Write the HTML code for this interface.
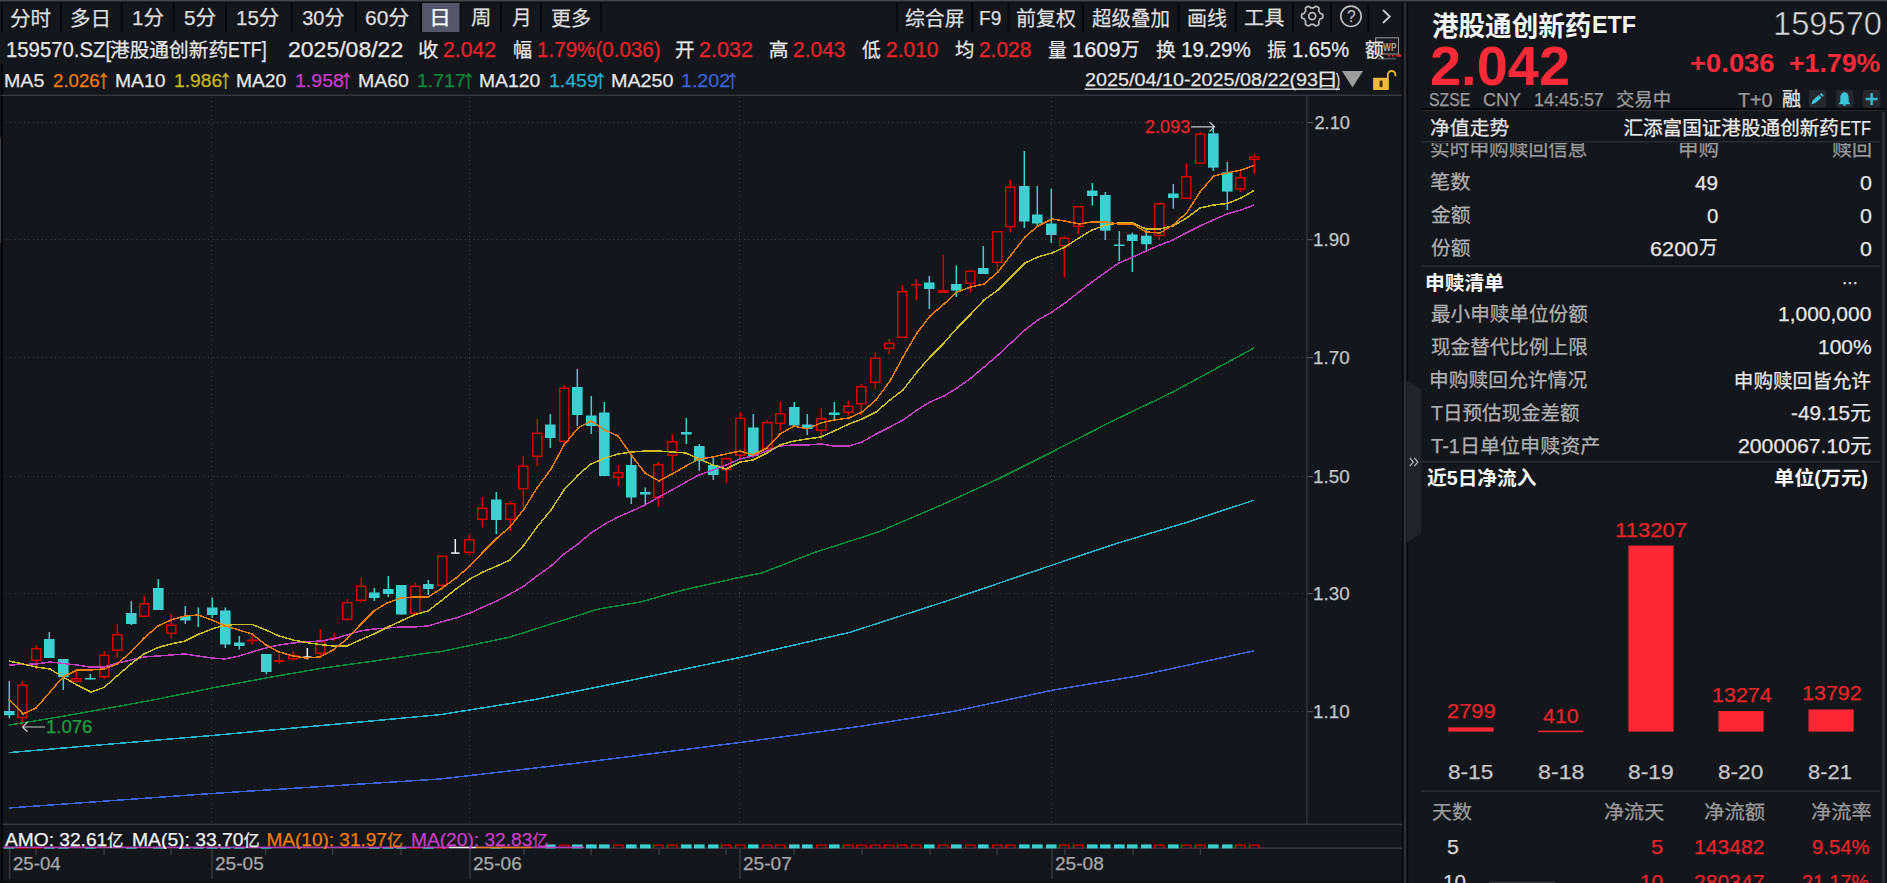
<!DOCTYPE html><html lang="zh"><head><meta charset="utf-8"><title>159570.SZ 港股通创新药ETF</title><style>
html,body{margin:0;padding:0;background:#13161b;}html{overflow:hidden;}body{width:1887px;height:883px;position:relative;overflow:hidden;font-family:"Liberation Sans","Noto Sans CJK SC",sans-serif;}#root{position:absolute;left:0;top:0;width:1887px;height:883px;overflow:hidden;}
svg{position:absolute;left:0;top:0;}.t{-webkit-text-stroke:0.25px currentColor;position:absolute;white-space:nowrap;line-height:1;transform-origin:0 0;left:0;top:0;}.cl{position:absolute;left:0;width:1887px;overflow:hidden;}
</style></head><body><div id="root">
<svg width="1887" height="883" viewBox="0 0 1887 883">
<rect x="0" y="0" width="1887" height="1.6" fill="#43464f"/>
<rect x="0" y="1.8" width="1887" height="1" fill="#08090b"/>
<rect x="1.0" y="3" width="2" height="29" fill="#08090b"/>
<rect x="60.0" y="3" width="2" height="29" fill="#08090b"/>
<rect x="120.5" y="3" width="2" height="29" fill="#08090b"/>
<rect x="172.7" y="3" width="2" height="29" fill="#08090b"/>
<rect x="225.0" y="3" width="2" height="29" fill="#08090b"/>
<rect x="290.7" y="3" width="2" height="29" fill="#08090b"/>
<rect x="354.6" y="3" width="2" height="29" fill="#08090b"/>
<rect x="420.0" y="3" width="2" height="29" fill="#08090b"/>
<rect x="459.0" y="3" width="2" height="29" fill="#08090b"/>
<rect x="500.0" y="3" width="2" height="29" fill="#08090b"/>
<rect x="540.0" y="3" width="2" height="29" fill="#08090b"/>
<rect x="600.0" y="3" width="2" height="29" fill="#08090b"/>
<rect x="896.0" y="3" width="2" height="29" fill="#08090b"/>
<rect x="971.2" y="3" width="2" height="29" fill="#08090b"/>
<rect x="1007.5" y="3" width="2" height="29" fill="#08090b"/>
<rect x="1081.9" y="3" width="2" height="29" fill="#08090b"/>
<rect x="1177.8" y="3" width="2" height="29" fill="#08090b"/>
<rect x="1234.8" y="3" width="2" height="29" fill="#08090b"/>
<rect x="1292.0" y="3" width="2" height="29" fill="#08090b"/>
<rect x="1330.0" y="3" width="2" height="29" fill="#08090b"/>
<rect x="1367.3" y="3" width="2" height="29" fill="#08090b"/>
<rect x="422" y="3" width="37.6" height="29" fill="#55566a"/>
<rect x="0.8" y="64" width="2" height="819" fill="#050608"/>
<rect x="0" y="137.5" width="1" height="105.5" fill="#3c3e46"/>
<rect x="1" y="94.6" width="1401.1" height="1.4" fill="#36373c"/>
<rect x="0" y="881.7" width="1403" height="1.3" fill="#0a0b0d"/>
<line x1="6" y1="122.5" x2="1307" y2="122.5" stroke="#3c3e43" stroke-width="1" stroke-dasharray="1 3 1 4"/>
<rect x="1307" y="122" width="6" height="1.2" fill="#55565a"/>
<line x1="6" y1="239.5" x2="1307" y2="239.5" stroke="#3c3e43" stroke-width="1" stroke-dasharray="1 3 1 4"/>
<rect x="1307" y="239" width="6" height="1.2" fill="#55565a"/>
<line x1="6" y1="357.5" x2="1307" y2="357.5" stroke="#3c3e43" stroke-width="1" stroke-dasharray="1 3 1 4"/>
<rect x="1307" y="357" width="6" height="1.2" fill="#55565a"/>
<line x1="6" y1="476.5" x2="1307" y2="476.5" stroke="#3c3e43" stroke-width="1" stroke-dasharray="1 3 1 4"/>
<rect x="1307" y="476" width="6" height="1.2" fill="#55565a"/>
<line x1="6" y1="593.5" x2="1307" y2="593.5" stroke="#3c3e43" stroke-width="1" stroke-dasharray="1 3 1 4"/>
<rect x="1307" y="593" width="6" height="1.2" fill="#55565a"/>
<line x1="6" y1="711.5" x2="1307" y2="711.5" stroke="#3c3e43" stroke-width="1" stroke-dasharray="1 3 1 4"/>
<rect x="1307" y="711" width="6" height="1.2" fill="#55565a"/>
<line x1="211.5" y1="97" x2="211.5" y2="823" stroke="#3c3e43" stroke-width="1" stroke-dasharray="1 3 1 4"/>
<line x1="469.5" y1="97" x2="469.5" y2="823" stroke="#3c3e43" stroke-width="1" stroke-dasharray="1 3 1 4"/>
<line x1="739.5" y1="97" x2="739.5" y2="823" stroke="#3c3e43" stroke-width="1" stroke-dasharray="1 3 1 4"/>
<line x1="1051.5" y1="97" x2="1051.5" y2="823" stroke="#3c3e43" stroke-width="1" stroke-dasharray="1 3 1 4"/>
<rect x="1306.2" y="95" width="1.4" height="729" fill="#36373c"/>
<rect x="2.5" y="823.6" width="1399.6" height="1.5" fill="#36373c"/>
<rect x="2.5" y="847.4" width="1399.6" height="1.5" fill="#36373c"/>
<rect x="1402.1" y="2.8" width="1.6" height="881" fill="#050608"/>
<rect x="1403.7" y="2.8" width="2.9" height="881" fill="#2e2f35"/>
<rect x="1406.6" y="2.8" width="1.5" height="881" fill="#050608"/>
<rect x="8.9" y="849" width="1.3" height="30" fill="#3c3d42"/>
<rect x="211.4" y="849" width="1.3" height="30" fill="#3c3d42"/>
<rect x="469.4" y="849" width="1.3" height="30" fill="#3c3d42"/>
<rect x="739.4" y="849" width="1.3" height="30" fill="#3c3d42"/>
<rect x="1051.4" y="849" width="1.3" height="30" fill="#3c3d42"/>
<rect x="35.4" y="849" width="1.3" height="6" fill="#3c3d42"/>
<rect x="103.4" y="849" width="1.3" height="6" fill="#3c3d42"/>
<rect x="170.4" y="849" width="1.3" height="6" fill="#3c3d42"/>
<rect x="264.9" y="849" width="1.3" height="6" fill="#3c3d42"/>
<rect x="331.9" y="849" width="1.3" height="6" fill="#3c3d42"/>
<rect x="400.4" y="849" width="1.3" height="6" fill="#3c3d42"/>
<rect x="523.4" y="849" width="1.3" height="6" fill="#3c3d42"/>
<rect x="590.4" y="849" width="1.3" height="6" fill="#3c3d42"/>
<rect x="658.4" y="849" width="1.3" height="6" fill="#3c3d42"/>
<rect x="725.4" y="849" width="1.3" height="6" fill="#3c3d42"/>
<rect x="793.4" y="849" width="1.3" height="6" fill="#3c3d42"/>
<rect x="861.4" y="849" width="1.3" height="6" fill="#3c3d42"/>
<rect x="929.4" y="849" width="1.3" height="6" fill="#3c3d42"/>
<rect x="996.4" y="849" width="1.3" height="6" fill="#3c3d42"/>
<rect x="1064.4" y="849" width="1.3" height="6" fill="#3c3d42"/>
<rect x="1132.4" y="849" width="1.3" height="6" fill="#3c3d42"/>
<rect x="1199.8" y="849" width="1.3" height="6" fill="#3c3d42"/>
<rect x="8.55" y="681" width="1.5" height="37.2" fill="#3ecfd0"/>
<rect x="4" y="711" width="10.6" height="4.2" fill="#3ecfd0"/>
<rect x="4" y="847" width="10.6" height="1.6" fill="#3ecfd0"/>
<rect x="21.55" y="681" width="1.5" height="3.5" fill="#d40000"/>
<rect x="21.55" y="718.2" width="1.5" height="7.0" fill="#d40000"/>
<rect x="17.75" y="685.25" width="9.1" height="32.2" fill="#13161b" stroke="#d40000" stroke-width="1.5"/>
<rect x="17" y="847" width="10.6" height="1.6" fill="#d40000"/>
<rect x="35.55" y="645" width="1.5" height="3.0" fill="#d40000"/>
<rect x="35.55" y="661" width="1.5" height="8.0" fill="#d40000"/>
<rect x="31.75" y="648.75" width="9.1" height="11.5" fill="#13161b" stroke="#d40000" stroke-width="1.5"/>
<rect x="31" y="847" width="10.6" height="1.6" fill="#d40000"/>
<rect x="48.55" y="632" width="1.5" height="26.0" fill="#3ecfd0"/>
<rect x="44" y="639" width="10.6" height="19.0" fill="#3ecfd0"/>
<rect x="44" y="847" width="10.6" height="1.6" fill="#3ecfd0"/>
<rect x="62.55" y="659" width="1.5" height="31.0" fill="#3ecfd0"/>
<rect x="58" y="659" width="10.6" height="18.0" fill="#3ecfd0"/>
<rect x="58" y="847" width="10.6" height="1.6" fill="#3ecfd0"/>
<rect x="75.55" y="669" width="1.5" height="9.0" fill="#d40000"/>
<rect x="71.75" y="678.75" width="9.1" height="2.5" fill="#13161b" stroke="#d40000" stroke-width="1.5"/>
<rect x="89.55" y="674" width="1.5" height="5.5" fill="#3ecfd0"/>
<rect x="85" y="678" width="10.6" height="1.5" fill="#3ecfd0"/>
<rect x="85" y="847" width="10.6" height="1.6" fill="#3ecfd0"/>
<rect x="103.55" y="651" width="1.5" height="3.5" fill="#d40000"/>
<rect x="103.55" y="677.5" width="1.5" height="1.5" fill="#d40000"/>
<rect x="99.75" y="655.25" width="9.1" height="21.5" fill="#13161b" stroke="#d40000" stroke-width="1.5"/>
<rect x="116.55" y="624" width="1.5" height="10.0" fill="#d40000"/>
<rect x="116.55" y="651" width="1.5" height="7.0" fill="#d40000"/>
<rect x="112.75" y="634.75" width="9.1" height="15.5" fill="#13161b" stroke="#d40000" stroke-width="1.5"/>
<rect x="130.55" y="601" width="1.5" height="24.0" fill="#3ecfd0"/>
<rect x="126" y="613" width="10.6" height="11.0" fill="#3ecfd0"/>
<rect x="126" y="847" width="10.6" height="1.6" fill="#3ecfd0"/>
<rect x="143.55" y="595.5" width="1.5" height="7.5" fill="#d40000"/>
<rect x="139.75" y="603.75" width="9.1" height="12.5" fill="#13161b" stroke="#d40000" stroke-width="1.5"/>
<rect x="157.55" y="579" width="1.5" height="31.0" fill="#3ecfd0"/>
<rect x="153" y="588" width="10.6" height="22.0" fill="#3ecfd0"/>
<rect x="153" y="847" width="10.6" height="1.6" fill="#3ecfd0"/>
<rect x="170.55" y="614" width="1.5" height="10.5" fill="#d40000"/>
<rect x="170.55" y="634" width="1.5" height="5.0" fill="#d40000"/>
<rect x="166.75" y="625.25" width="9.1" height="8.0" fill="#13161b" stroke="#d40000" stroke-width="1.5"/>
<rect x="184.55" y="606" width="1.5" height="18.0" fill="#3ecfd0"/>
<rect x="180" y="616" width="10.6" height="4.5" fill="#3ecfd0"/>
<rect x="180" y="847" width="10.6" height="1.6" fill="#3ecfd0"/>
<rect x="197.55" y="607.5" width="1.5" height="19.5" fill="#3ecfd0"/>
<rect x="193" y="847" width="10.6" height="1.6" fill="#3ecfd0"/>
<rect x="211.55" y="597.5" width="1.5" height="20.5" fill="#3ecfd0"/>
<rect x="207" y="607.5" width="10.6" height="7.5" fill="#3ecfd0"/>
<rect x="207" y="847" width="10.6" height="1.6" fill="#3ecfd0"/>
<rect x="224.55" y="607.5" width="1.5" height="40.5" fill="#3ecfd0"/>
<rect x="220" y="610.5" width="10.6" height="34.0" fill="#3ecfd0"/>
<rect x="220" y="847" width="10.6" height="1.6" fill="#3ecfd0"/>
<rect x="238.55" y="636" width="1.5" height="13.5" fill="#3ecfd0"/>
<rect x="234" y="642.5" width="10.6" height="3.5" fill="#3ecfd0"/>
<rect x="234" y="847" width="10.6" height="1.6" fill="#3ecfd0"/>
<rect x="251.55" y="635" width="1.5" height="4.5" fill="#d40000"/>
<rect x="251.55" y="641.5" width="1.5" height="3.0" fill="#d40000"/>
<rect x="247" y="639.5" width="10.6" height="2.0" fill="#d40000"/>
<rect x="265.55" y="654" width="1.5" height="20.0" fill="#3ecfd0"/>
<rect x="261" y="654" width="10.6" height="18.0" fill="#3ecfd0"/>
<rect x="261" y="847" width="10.6" height="1.6" fill="#3ecfd0"/>
<rect x="278.55" y="654" width="1.5" height="6.0" fill="#d40000"/>
<rect x="278.55" y="662" width="1.5" height="2.0" fill="#d40000"/>
<rect x="274" y="660" width="10.6" height="2.0" fill="#d40000"/>
<rect x="292.55" y="651" width="1.5" height="4.0" fill="#d40000"/>
<rect x="292.55" y="659.5" width="1.5" height="1.5" fill="#d40000"/>
<rect x="288.75" y="655.75" width="9.1" height="3.0" fill="#13161b" stroke="#d40000" stroke-width="1.5"/>
<rect x="306.55" y="648" width="1.5" height="11.5" fill="#f0f0f0"/>
<rect x="303" y="656.3" width="8.6" height="1.5" fill="#f0f0f0"/>
<rect x="319.55" y="629" width="1.5" height="12.0" fill="#d40000"/>
<rect x="319.55" y="654" width="1.5" height="3.5" fill="#d40000"/>
<rect x="315.75" y="641.75" width="9.1" height="11.5" fill="#13161b" stroke="#d40000" stroke-width="1.5"/>
<rect x="333.55" y="633" width="1.5" height="4.5" fill="#d40000"/>
<rect x="333.55" y="639" width="1.5" height="2.0" fill="#d40000"/>
<rect x="329" y="637.5" width="10.6" height="1.6" fill="#d40000"/>
<rect x="346.55" y="599" width="1.5" height="3.0" fill="#d40000"/>
<rect x="346.55" y="620" width="1.5" height="1.0" fill="#d40000"/>
<rect x="342.75" y="602.75" width="9.1" height="16.5" fill="#13161b" stroke="#d40000" stroke-width="1.5"/>
<rect x="360.55" y="577.5" width="1.5" height="8.0" fill="#d40000"/>
<rect x="360.55" y="601" width="1.5" height="1.5" fill="#d40000"/>
<rect x="356.75" y="586.25" width="9.1" height="14.0" fill="#13161b" stroke="#d40000" stroke-width="1.5"/>
<rect x="373.55" y="588" width="1.5" height="13.0" fill="#3ecfd0"/>
<rect x="369" y="592.5" width="10.6" height="5.5" fill="#3ecfd0"/>
<rect x="369" y="847" width="10.6" height="1.6" fill="#3ecfd0"/>
<rect x="387.55" y="576" width="1.5" height="21.0" fill="#3ecfd0"/>
<rect x="383" y="589" width="10.6" height="5.0" fill="#3ecfd0"/>
<rect x="383" y="847" width="10.6" height="1.6" fill="#3ecfd0"/>
<rect x="400.55" y="585" width="1.5" height="29.5" fill="#3ecfd0"/>
<rect x="396" y="585" width="10.6" height="29.5" fill="#3ecfd0"/>
<rect x="396" y="847" width="10.6" height="1.6" fill="#3ecfd0"/>
<rect x="414.55" y="582.5" width="1.5" height="3.0" fill="#d40000"/>
<rect x="410.75" y="586.25" width="9.1" height="27.0" fill="#13161b" stroke="#d40000" stroke-width="1.5"/>
<rect x="410" y="847" width="10.6" height="1.6" fill="#d40000"/>
<rect x="427.55" y="580" width="1.5" height="15.0" fill="#3ecfd0"/>
<rect x="423" y="584" width="10.6" height="5.0" fill="#3ecfd0"/>
<rect x="423" y="847" width="10.6" height="1.6" fill="#3ecfd0"/>
<rect x="441.55" y="586" width="1.5" height="3.0" fill="#d40000"/>
<rect x="437.75" y="556.25" width="9.1" height="29.0" fill="#13161b" stroke="#d40000" stroke-width="1.5"/>
<rect x="437" y="847" width="10.6" height="1.6" fill="#d40000"/>
<rect x="454.55" y="539" width="1.5" height="14.0" fill="#f0f0f0"/>
<rect x="451" y="552.3" width="8.6" height="1.5" fill="#f0f0f0"/>
<rect x="468.55" y="534.5" width="1.5" height="4.5" fill="#d40000"/>
<rect x="468.55" y="553" width="1.5" height="2.0" fill="#d40000"/>
<rect x="464.75" y="539.75" width="9.1" height="12.5" fill="#13161b" stroke="#d40000" stroke-width="1.5"/>
<rect x="481.55" y="497" width="1.5" height="10.5" fill="#d40000"/>
<rect x="481.55" y="520" width="1.5" height="7.5" fill="#d40000"/>
<rect x="477.75" y="508.25" width="9.1" height="11.0" fill="#13161b" stroke="#d40000" stroke-width="1.5"/>
<rect x="495.55" y="492" width="1.5" height="42.0" fill="#3ecfd0"/>
<rect x="491" y="499.5" width="10.6" height="20.5" fill="#3ecfd0"/>
<rect x="491" y="847" width="10.6" height="1.6" fill="#3ecfd0"/>
<rect x="509.55" y="501" width="1.5" height="2.0" fill="#d40000"/>
<rect x="509.55" y="520" width="1.5" height="11.0" fill="#d40000"/>
<rect x="505.75" y="503.75" width="9.1" height="15.5" fill="#13161b" stroke="#d40000" stroke-width="1.5"/>
<rect x="522.55" y="456" width="1.5" height="9.5" fill="#d40000"/>
<rect x="522.55" y="489.5" width="1.5" height="17.5" fill="#d40000"/>
<rect x="518.75" y="466.25" width="9.1" height="22.5" fill="#13161b" stroke="#d40000" stroke-width="1.5"/>
<rect x="536.55" y="419" width="1.5" height="13.5" fill="#d40000"/>
<rect x="536.55" y="457" width="1.5" height="9.0" fill="#d40000"/>
<rect x="532.75" y="433.25" width="9.1" height="23.0" fill="#13161b" stroke="#d40000" stroke-width="1.5"/>
<rect x="549.55" y="414" width="1.5" height="34.0" fill="#3ecfd0"/>
<rect x="545" y="424.5" width="10.6" height="13.5" fill="#3ecfd0"/>
<rect x="545" y="844.4" width="10.6" height="4" fill="#3ecfd0"/>
<rect x="563.55" y="385" width="1.5" height="2.5" fill="#d40000"/>
<rect x="563.55" y="442" width="1.5" height="3.0" fill="#d40000"/>
<rect x="559.75" y="388.25" width="9.1" height="53.0" fill="#13161b" stroke="#d40000" stroke-width="1.5"/>
<path d="M559.7 848.4V845.1H568.9V848.4" fill="none" stroke="#d40000" stroke-width="1.4"/>
<rect x="576.55" y="369" width="1.5" height="57.0" fill="#3ecfd0"/>
<rect x="572" y="387" width="10.6" height="28.0" fill="#3ecfd0"/>
<rect x="572" y="844.4" width="10.6" height="4" fill="#3ecfd0"/>
<rect x="590.55" y="396" width="1.5" height="38.0" fill="#3ecfd0"/>
<rect x="586" y="415.5" width="10.6" height="10.5" fill="#3ecfd0"/>
<rect x="586" y="844.4" width="10.6" height="4" fill="#3ecfd0"/>
<rect x="603.55" y="402" width="1.5" height="74.0" fill="#3ecfd0"/>
<rect x="599" y="412.5" width="10.6" height="63.5" fill="#3ecfd0"/>
<rect x="599" y="844.4" width="10.6" height="4" fill="#3ecfd0"/>
<rect x="617.55" y="465" width="1.5" height="7.0" fill="#d40000"/>
<rect x="617.55" y="478" width="1.5" height="8.0" fill="#d40000"/>
<rect x="613.75" y="472.75" width="9.1" height="4.5" fill="#13161b" stroke="#d40000" stroke-width="1.5"/>
<path d="M613.7 848.4V845.1H622.9V848.4" fill="none" stroke="#d40000" stroke-width="1.4"/>
<rect x="630.55" y="455" width="1.5" height="49.0" fill="#3ecfd0"/>
<rect x="626" y="465" width="10.6" height="32.5" fill="#3ecfd0"/>
<rect x="626" y="844.4" width="10.6" height="4" fill="#3ecfd0"/>
<rect x="644.55" y="487.5" width="1.5" height="17.5" fill="#3ecfd0"/>
<rect x="640" y="492" width="10.6" height="2.5" fill="#3ecfd0"/>
<rect x="640" y="844.4" width="10.6" height="4" fill="#3ecfd0"/>
<rect x="657.55" y="462" width="1.5" height="2.0" fill="#d40000"/>
<rect x="657.55" y="498" width="1.5" height="9.0" fill="#d40000"/>
<rect x="653.75" y="464.75" width="9.1" height="32.5" fill="#13161b" stroke="#d40000" stroke-width="1.5"/>
<path d="M653.7 848.4V845.1H662.9V848.4" fill="none" stroke="#d40000" stroke-width="1.4"/>
<rect x="671.55" y="434" width="1.5" height="7.0" fill="#d40000"/>
<rect x="671.55" y="456" width="1.5" height="15.0" fill="#d40000"/>
<rect x="667.75" y="441.75" width="9.1" height="13.5" fill="#13161b" stroke="#d40000" stroke-width="1.5"/>
<path d="M667.7 848.4V845.1H676.9V848.4" fill="none" stroke="#d40000" stroke-width="1.4"/>
<rect x="685.55" y="418" width="1.5" height="26.0" fill="#3ecfd0"/>
<rect x="681" y="432" width="10.6" height="2.5" fill="#3ecfd0"/>
<rect x="681" y="844.4" width="10.6" height="4" fill="#3ecfd0"/>
<rect x="698.55" y="444" width="1.5" height="27.0" fill="#3ecfd0"/>
<rect x="694" y="446" width="10.6" height="15.0" fill="#3ecfd0"/>
<rect x="694" y="844.4" width="10.6" height="4" fill="#3ecfd0"/>
<rect x="712.55" y="457.5" width="1.5" height="22.5" fill="#3ecfd0"/>
<rect x="708" y="465" width="10.6" height="10.0" fill="#3ecfd0"/>
<rect x="708" y="844.4" width="10.6" height="4" fill="#3ecfd0"/>
<rect x="725.55" y="457.5" width="1.5" height="0.5" fill="#d40000"/>
<rect x="725.55" y="470" width="1.5" height="12.5" fill="#d40000"/>
<rect x="721.75" y="458.75" width="9.1" height="10.5" fill="#13161b" stroke="#d40000" stroke-width="1.5"/>
<path d="M721.7 848.4V845.1H730.9V848.4" fill="none" stroke="#d40000" stroke-width="1.4"/>
<rect x="739.55" y="412.5" width="1.5" height="5.0" fill="#d40000"/>
<rect x="739.55" y="456" width="1.5" height="3.0" fill="#d40000"/>
<rect x="735.75" y="418.25" width="9.1" height="37.0" fill="#13161b" stroke="#d40000" stroke-width="1.5"/>
<path d="M735.7 848.4V845.1H744.9V848.4" fill="none" stroke="#d40000" stroke-width="1.4"/>
<rect x="752.55" y="414" width="1.5" height="43.5" fill="#3ecfd0"/>
<rect x="748" y="427.5" width="10.6" height="28.5" fill="#3ecfd0"/>
<rect x="748" y="844.4" width="10.6" height="4" fill="#3ecfd0"/>
<rect x="766.55" y="420" width="1.5" height="2.0" fill="#d40000"/>
<rect x="766.55" y="449" width="1.5" height="3.5" fill="#d40000"/>
<rect x="762.75" y="422.75" width="9.1" height="25.5" fill="#13161b" stroke="#d40000" stroke-width="1.5"/>
<path d="M762.7 848.4V845.1H771.9V848.4" fill="none" stroke="#d40000" stroke-width="1.4"/>
<rect x="779.55" y="402" width="1.5" height="11.0" fill="#d40000"/>
<rect x="779.55" y="424" width="1.5" height="6.5" fill="#d40000"/>
<rect x="775.75" y="413.75" width="9.1" height="9.5" fill="#13161b" stroke="#d40000" stroke-width="1.5"/>
<path d="M775.7 848.4V845.1H784.9V848.4" fill="none" stroke="#d40000" stroke-width="1.4"/>
<rect x="793.55" y="402" width="1.5" height="23.5" fill="#3ecfd0"/>
<rect x="789" y="407" width="10.6" height="18.5" fill="#3ecfd0"/>
<rect x="789" y="844.4" width="10.6" height="4" fill="#3ecfd0"/>
<rect x="806.55" y="414" width="1.5" height="21.0" fill="#3ecfd0"/>
<rect x="802" y="424.5" width="10.6" height="4.5" fill="#3ecfd0"/>
<rect x="802" y="844.4" width="10.6" height="4" fill="#3ecfd0"/>
<rect x="820.55" y="408" width="1.5" height="10.0" fill="#d40000"/>
<rect x="820.55" y="431" width="1.5" height="9.5" fill="#d40000"/>
<rect x="816.75" y="418.75" width="9.1" height="11.5" fill="#13161b" stroke="#d40000" stroke-width="1.5"/>
<path d="M816.7 848.4V845.1H825.9V848.4" fill="none" stroke="#d40000" stroke-width="1.4"/>
<rect x="833.55" y="402" width="1.5" height="18.0" fill="#3ecfd0"/>
<rect x="829" y="412.5" width="10.6" height="2.5" fill="#3ecfd0"/>
<rect x="829" y="844.4" width="10.6" height="4" fill="#3ecfd0"/>
<rect x="847.55" y="400.5" width="1.5" height="5.0" fill="#d40000"/>
<rect x="847.55" y="413" width="1.5" height="2.5" fill="#d40000"/>
<rect x="843.75" y="406.25" width="9.1" height="6.0" fill="#13161b" stroke="#d40000" stroke-width="1.5"/>
<path d="M843.7 848.4V845.1H852.9V848.4" fill="none" stroke="#d40000" stroke-width="1.4"/>
<rect x="860.55" y="384" width="1.5" height="2.0" fill="#d40000"/>
<rect x="860.55" y="404.5" width="1.5" height="10.5" fill="#d40000"/>
<rect x="856.75" y="386.75" width="9.1" height="17.0" fill="#13161b" stroke="#d40000" stroke-width="1.5"/>
<path d="M856.7 848.4V845.1H865.9V848.4" fill="none" stroke="#d40000" stroke-width="1.4"/>
<rect x="874.55" y="352.5" width="1.5" height="5.0" fill="#d40000"/>
<rect x="874.55" y="383" width="1.5" height="6.5" fill="#d40000"/>
<rect x="870.75" y="358.25" width="9.1" height="24.0" fill="#13161b" stroke="#d40000" stroke-width="1.5"/>
<path d="M870.7 848.4V845.1H879.9V848.4" fill="none" stroke="#d40000" stroke-width="1.4"/>
<rect x="888.55" y="339" width="1.5" height="3.5" fill="#d40000"/>
<rect x="888.55" y="349" width="1.5" height="5.0" fill="#d40000"/>
<rect x="884.75" y="343.25" width="9.1" height="5.0" fill="#13161b" stroke="#d40000" stroke-width="1.5"/>
<path d="M884.7 848.4V845.1H893.9V848.4" fill="none" stroke="#d40000" stroke-width="1.4"/>
<rect x="901.55" y="285" width="1.5" height="6.0" fill="#d40000"/>
<rect x="897.75" y="291.75" width="9.1" height="45.5" fill="#13161b" stroke="#d40000" stroke-width="1.5"/>
<path d="M897.7 848.4V845.1H906.9V848.4" fill="none" stroke="#d40000" stroke-width="1.4"/>
<rect x="915.55" y="279" width="1.5" height="5.0" fill="#d40000"/>
<rect x="915.55" y="285.5" width="1.5" height="14.5" fill="#d40000"/>
<rect x="911" y="284" width="10.6" height="1.6" fill="#d40000"/>
<path d="M911.7 848.4V845.1H920.9V848.4" fill="none" stroke="#d40000" stroke-width="1.4"/>
<rect x="928.55" y="276" width="1.5" height="33.0" fill="#3ecfd0"/>
<rect x="924" y="282.5" width="10.6" height="6.5" fill="#3ecfd0"/>
<rect x="924" y="844.4" width="10.6" height="4" fill="#3ecfd0"/>
<rect x="942.55" y="255" width="1.5" height="35.0" fill="#d40000"/>
<rect x="938.75" y="290.75" width="9.1" height="1.5" fill="#13161b" stroke="#d40000" stroke-width="1.5"/>
<path d="M938.7 848.4V845.1H947.9V848.4" fill="none" stroke="#d40000" stroke-width="1.4"/>
<rect x="955.55" y="265.5" width="1.5" height="31.5" fill="#3ecfd0"/>
<rect x="951" y="284" width="10.6" height="6.5" fill="#3ecfd0"/>
<rect x="951" y="844.4" width="10.6" height="4" fill="#3ecfd0"/>
<rect x="969.55" y="269.5" width="1.5" height="1.0" fill="#d40000"/>
<rect x="969.55" y="284" width="1.5" height="8.5" fill="#d40000"/>
<rect x="965.75" y="271.25" width="9.1" height="12.0" fill="#13161b" stroke="#d40000" stroke-width="1.5"/>
<path d="M965.7 848.4V845.1H974.9V848.4" fill="none" stroke="#d40000" stroke-width="1.4"/>
<rect x="982.55" y="246" width="1.5" height="28.0" fill="#3ecfd0"/>
<rect x="978" y="268" width="10.6" height="6.0" fill="#3ecfd0"/>
<rect x="978" y="844.4" width="10.6" height="4" fill="#3ecfd0"/>
<rect x="996.55" y="263" width="1.5" height="8.0" fill="#d40000"/>
<rect x="992.75" y="231.75" width="9.1" height="30.5" fill="#13161b" stroke="#d40000" stroke-width="1.5"/>
<path d="M992.7 848.4V845.1H1001.9V848.4" fill="none" stroke="#d40000" stroke-width="1.4"/>
<rect x="1009.55" y="180" width="1.5" height="6.4" fill="#d40000"/>
<rect x="1009.55" y="227.4" width="1.5" height="5.1" fill="#d40000"/>
<rect x="1005.75" y="187.15" width="9.1" height="39.5" fill="#13161b" stroke="#d40000" stroke-width="1.5"/>
<path d="M1005.7 848.4V845.1H1014.9V848.4" fill="none" stroke="#d40000" stroke-width="1.4"/>
<rect x="1023.55" y="151" width="1.5" height="77.0" fill="#3ecfd0"/>
<rect x="1019" y="186" width="10.6" height="35.5" fill="#3ecfd0"/>
<rect x="1019" y="844.4" width="10.6" height="4" fill="#3ecfd0"/>
<rect x="1036.55" y="186" width="1.5" height="40.0" fill="#3ecfd0"/>
<rect x="1032" y="214.5" width="10.6" height="9.0" fill="#3ecfd0"/>
<rect x="1032" y="844.4" width="10.6" height="4" fill="#3ecfd0"/>
<rect x="1050.55" y="188.7" width="1.5" height="54.3" fill="#3ecfd0"/>
<rect x="1046" y="223.6" width="10.6" height="11.4" fill="#3ecfd0"/>
<rect x="1046" y="844.4" width="10.6" height="4" fill="#3ecfd0"/>
<rect x="1063.55" y="236" width="1.5" height="1.5" fill="#d40000"/>
<rect x="1063.55" y="246.5" width="1.5" height="31.0" fill="#d40000"/>
<rect x="1059.75" y="238.25" width="9.1" height="7.5" fill="#13161b" stroke="#d40000" stroke-width="1.5"/>
<path d="M1059.7 848.4V845.1H1068.8999999999999V848.4" fill="none" stroke="#d40000" stroke-width="1.4"/>
<rect x="1077.55" y="227" width="1.5" height="7.0" fill="#d40000"/>
<rect x="1073.75" y="206.75" width="9.1" height="19.5" fill="#13161b" stroke="#d40000" stroke-width="1.5"/>
<path d="M1073.7 848.4V845.1H1082.8999999999999V848.4" fill="none" stroke="#d40000" stroke-width="1.4"/>
<rect x="1091.55" y="183" width="1.5" height="22.5" fill="#3ecfd0"/>
<rect x="1087" y="190.6" width="10.6" height="5.4" fill="#3ecfd0"/>
<rect x="1087" y="844.4" width="10.6" height="4" fill="#3ecfd0"/>
<rect x="1104.55" y="192" width="1.5" height="48.0" fill="#3ecfd0"/>
<rect x="1100" y="195" width="10.6" height="35.6" fill="#3ecfd0"/>
<rect x="1100" y="844.4" width="10.6" height="4" fill="#3ecfd0"/>
<rect x="1118.55" y="231" width="1.5" height="30.0" fill="#3ecfd0"/>
<rect x="1114" y="244.5" width="10.6" height="1.5" fill="#3ecfd0"/>
<rect x="1114" y="844.4" width="10.6" height="4" fill="#3ecfd0"/>
<rect x="1131.55" y="232.6" width="1.5" height="39.4" fill="#3ecfd0"/>
<rect x="1127" y="234.5" width="10.6" height="6.5" fill="#3ecfd0"/>
<rect x="1127" y="844.4" width="10.6" height="4" fill="#3ecfd0"/>
<rect x="1145.55" y="229.5" width="1.5" height="22.5" fill="#3ecfd0"/>
<rect x="1141" y="235.7" width="10.6" height="8.5" fill="#3ecfd0"/>
<rect x="1141" y="844.4" width="10.6" height="4" fill="#3ecfd0"/>
<rect x="1158.55" y="236.3" width="1.5" height="3.7" fill="#d40000"/>
<rect x="1154.75" y="203.75" width="9.1" height="31.8" fill="#13161b" stroke="#d40000" stroke-width="1.5"/>
<path d="M1154.7 848.4V845.1H1163.8999999999999V848.4" fill="none" stroke="#d40000" stroke-width="1.4"/>
<rect x="1172.55" y="184" width="1.5" height="24.7" fill="#3ecfd0"/>
<rect x="1168" y="193.5" width="10.6" height="4.5" fill="#3ecfd0"/>
<rect x="1168" y="844.4" width="10.6" height="4" fill="#3ecfd0"/>
<rect x="1185.55" y="163.5" width="1.5" height="12.5" fill="#d40000"/>
<rect x="1181.75" y="176.75" width="9.1" height="21.5" fill="#13161b" stroke="#d40000" stroke-width="1.5"/>
<path d="M1181.7 848.4V845.1H1190.8999999999999V848.4" fill="none" stroke="#d40000" stroke-width="1.4"/>
<rect x="1199.55" y="132" width="1.5" height="1.4" fill="#d40000"/>
<rect x="1195.75" y="134.15" width="9.1" height="28.9" fill="#13161b" stroke="#d40000" stroke-width="1.5"/>
<path d="M1195.7 848.4V845.1H1204.8999999999999V848.4" fill="none" stroke="#d40000" stroke-width="1.4"/>
<rect x="1212.55" y="126.7" width="1.5" height="44.3" fill="#3ecfd0"/>
<rect x="1208" y="133.4" width="10.6" height="34.3" fill="#3ecfd0"/>
<rect x="1208" y="844.4" width="10.6" height="4" fill="#3ecfd0"/>
<rect x="1226.55" y="162" width="1.5" height="48.0" fill="#3ecfd0"/>
<rect x="1222" y="172.3" width="10.6" height="19.3" fill="#3ecfd0"/>
<rect x="1222" y="844.4" width="10.6" height="4" fill="#3ecfd0"/>
<rect x="1239.55" y="170.6" width="1.5" height="6.4" fill="#d40000"/>
<rect x="1239.55" y="189.7" width="1.5" height="2.3" fill="#d40000"/>
<rect x="1235.75" y="177.75" width="9.1" height="11.2" fill="#13161b" stroke="#d40000" stroke-width="1.5"/>
<path d="M1235.7 848.4V845.1H1244.8999999999999V848.4" fill="none" stroke="#d40000" stroke-width="1.4"/>
<rect x="1253.55" y="154.4" width="1.5" height="1.9" fill="#d40000"/>
<rect x="1253.55" y="160" width="1.5" height="14.0" fill="#d40000"/>
<rect x="1249.75" y="157.05" width="9.1" height="2.2" fill="#13161b" stroke="#d40000" stroke-width="1.5"/>
<path d="M1249.7 848.4V845.1H1258.8999999999999V848.4" fill="none" stroke="#d40000" stroke-width="1.4"/>
<polyline points="9.0,808.0 212.0,793.5 440.0,779.0 580.0,762.8 738.5,742.7 859.7,726.4 953.0,711.5 1051.0,690.5 1139.5,675.6 1254.0,650.8" fill="none" stroke="#3d62d6" stroke-width="1.5" stroke-linejoin="round" shape-rendering="crispEdges"/>
<polyline points="9.0,752.6 212.0,735.5 440.0,714.7 533.3,699.8 626.5,681.2 738.5,657.8 850.4,632.2 943.7,602.0 1051.0,565.5 1116.2,543.6 1186.0,522.6 1254.0,500.2" fill="none" stroke="#27b3cc" stroke-width="1.5" stroke-linejoin="round" shape-rendering="crispEdges"/>
<polyline points="9.0,725.0 50.0,718.5 104.0,709.0 158.0,699.0 212.0,688.0 266.0,678.0 320.0,668.5 374.0,661.0 428.0,653.0 440.0,651.8 510.0,637.0 598.6,609.0 640.5,602.0 682.5,590.2 738.5,577.6 762.0,573.0 813.0,553.0 878.4,532.0 943.7,504.0 999.6,478.3 1051.0,452.5 1111.5,421.5 1173.0,392.0 1254.0,348.0" fill="none" stroke="#0b8a3c" stroke-width="1.5" stroke-linejoin="round" shape-rendering="crispEdges"/>
<polyline points="9.0,665.0 36.0,664.0 50.0,662.0 77.0,665.0 90.0,667.0 104.0,667.0 117.0,663.0 131.0,660.0 144.0,657.0 158.0,656.0 171.0,655.0 185.0,654.0 198.0,656.0 212.0,658.0 225.0,659.0 239.0,656.0 252.0,652.0 266.0,648.0 279.0,645.0 293.0,643.0 306.0,642.0 320.0,641.0 333.0,639.0 347.0,635.0 360.0,631.0 374.0,629.0 387.0,628.0 401.0,627.0 414.0,627.0 428.0,626.0 441.0,622.0 456.0,618.0 470.0,613.0 483.0,607.0 497.0,601.0 510.0,594.0 524.0,586.0 537.0,576.0 551.0,566.0 564.0,554.0 578.0,544.0 591.0,533.0 605.0,524.0 618.0,517.0 632.0,511.0 645.0,505.0 659.0,497.0 672.0,490.0 686.0,482.0 699.0,475.0 713.0,470.0 726.0,465.0 740.0,459.0 753.0,456.0 767.0,451.0 780.0,446.0 794.0,445.0 807.0,445.0 821.0,444.0 834.0,446.0 849.0,446.0 862.0,442.0 876.0,434.0 890.0,427.0 903.0,420.0 917.0,410.0 930.0,402.0 944.0,396.0 957.0,388.0 971.0,378.0 984.0,367.0 998.0,355.0 1011.0,343.0 1025.0,330.0 1038.0,320.0 1052.0,312.0 1065.0,303.0 1079.0,292.0 1092.0,282.0 1106.0,272.0 1119.0,263.0 1133.0,257.0 1146.0,251.0 1160.0,245.0 1173.0,240.0 1186.0,233.0 1200.0,226.0 1213.0,220.0 1227.0,214.0 1241.0,210.0 1254.0,205.0" fill="none" stroke="#c040c0" stroke-width="1.5" stroke-linejoin="round" shape-rendering="crispEdges"/>
<polyline points="9.0,661.0 23.0,664.0 36.0,667.0 50.0,669.0 63.0,677.0 77.0,685.0 91.0,692.0 104.0,687.5 117.0,676.0 131.0,664.0 144.0,654.0 158.0,647.5 171.0,644.0 185.0,641.0 198.0,634.5 212.0,629.0 225.0,625.0 239.0,624.5 252.0,624.5 266.0,630.0 279.0,636.0 293.0,640.0 306.0,642.5 320.0,644.5 333.0,646.0 347.0,646.0 360.0,640.0 374.0,634.0 387.0,627.5 401.0,621.0 414.0,615.0 428.0,611.0 441.0,601.0 456.0,589.0 470.0,579.0 483.0,572.0 497.0,566.0 510.0,560.0 524.0,545.0 537.0,527.0 551.0,510.0 564.0,490.0 578.0,475.0 591.0,464.0 605.0,458.0 618.0,454.0 632.0,452.0 645.0,451.0 659.0,451.0 672.0,452.0 686.0,453.0 699.0,459.0 713.0,465.0 726.0,469.0 740.0,462.0 753.0,460.0 767.0,453.0 780.0,445.0 794.0,441.0 807.0,439.0 821.0,437.0 834.0,431.0 849.0,424.0 862.0,419.0 876.0,412.0 890.0,400.0 903.0,390.0 917.0,372.0 930.0,357.0 944.0,343.0 957.0,328.0 971.0,314.0 984.0,300.0 998.0,290.0 1011.0,277.0 1025.0,263.0 1038.0,257.0 1052.0,253.0 1065.0,247.0 1079.0,238.0 1092.0,230.0 1106.0,225.0 1119.0,223.0 1133.0,223.0 1146.0,229.0 1160.0,229.0 1173.0,226.0 1186.6,218.0 1200.0,208.0 1213.7,205.0 1227.0,203.5 1241.0,198.0 1254.0,190.5" fill="none" stroke="#ccbb28" stroke-width="1.5" stroke-linejoin="round" shape-rendering="crispEdges"/>
<polyline points="9.0,699.0 23.0,714.0 36.0,708.0 50.0,692.0 63.0,677.0 77.0,670.0 90.0,670.0 104.0,669.0 117.0,664.0 131.0,652.0 144.0,638.0 158.0,626.0 171.0,620.0 185.0,616.0 198.0,615.0 212.0,620.0 225.0,626.0 239.0,630.0 252.0,634.0 266.0,645.0 279.0,652.0 293.0,656.0 306.0,658.0 320.0,657.0 333.0,650.0 347.0,639.0 360.0,625.0 374.0,611.0 387.0,603.0 401.0,598.0 414.0,597.0 428.0,597.0 441.0,589.0 456.0,578.0 470.0,566.0 483.0,552.0 497.0,538.0 510.0,527.0 524.0,509.0 537.0,488.0 551.0,469.0 564.0,445.0 578.0,428.0 591.0,421.0 605.0,430.0 618.0,436.0 632.0,456.0 645.0,473.0 659.0,481.0 672.0,474.0 686.0,466.0 699.0,459.0 713.0,457.0 726.0,454.0 740.0,451.0 753.0,455.0 767.0,448.0 780.0,434.0 794.0,426.0 807.0,429.0 821.0,423.0 834.0,420.0 849.0,418.0 862.0,412.0 876.0,400.0 890.0,381.0 903.0,357.0 917.0,333.0 930.0,316.0 944.0,304.0 957.0,292.0 971.0,287.0 984.0,284.0 998.0,272.0 1011.0,255.0 1025.0,237.0 1038.0,226.0 1052.0,219.0 1065.0,221.0 1079.0,224.0 1092.0,222.0 1106.0,222.0 1119.0,224.0 1133.0,224.0 1146.0,232.0 1160.0,233.0 1173.0,225.0 1186.6,213.0 1200.0,192.0 1213.7,176.0 1227.0,173.0 1241.0,170.0 1254.0,165.5" fill="none" stroke="#ee7d0a" stroke-width="1.5" stroke-linejoin="round" shape-rendering="crispEdges"/>
<rect x="3" y="846.6" width="581" height="1.3" fill="#c63fc6"/>
<rect x="476" y="846.8" width="55" height="1.4" fill="#ee7d0a"/>
<rect x="449" y="846.8" width="27" height="1.4" fill="#f0f0f0"/>
<path d="M1191 126.8H1214.5M1209.5 122L1214.5 126.8L1209.5 131.6" fill="none" stroke="#c8c8c8" stroke-width="1.2"/>
<path d="M45 727H22.5M27.5 722.2L22.5 727L27.5 731.8" fill="none" stroke="#c8c8c8" stroke-width="1.2"/>
<path d="M1322.80 16.10L1322.79 16.65L1322.74 17.21L1322.67 17.76L1322.07 18.20L1321.33 18.55L1320.58 18.82L1319.95 19.07L1319.78 19.48L1319.60 19.87L1319.39 20.25L1319.16 20.62L1318.91 20.98L1318.65 21.32L1318.75 22.00L1318.88 22.78L1318.95 23.60L1318.87 24.34L1318.43 24.68L1317.97 24.99L1317.50 25.28L1317.01 25.54L1316.51 25.78L1316.00 26.00L1315.32 25.70L1314.65 25.23L1314.03 24.72L1313.50 24.30L1313.07 24.35L1312.63 24.39L1312.20 24.40L1311.77 24.39L1311.33 24.35L1310.90 24.30L1310.37 24.72L1309.75 25.23L1309.08 25.70L1308.40 26.00L1307.89 25.78L1307.39 25.54L1306.90 25.28L1306.43 24.99L1305.97 24.68L1305.53 24.34L1305.45 23.60L1305.52 22.78L1305.65 22.00L1305.75 21.32L1305.49 20.98L1305.24 20.62L1305.01 20.25L1304.80 19.87L1304.62 19.48L1304.45 19.07L1303.82 18.82L1303.07 18.55L1302.33 18.20L1301.73 17.76L1301.66 17.21L1301.61 16.65L1301.60 16.10L1301.61 15.55L1301.66 14.99L1301.73 14.44L1302.33 14.00L1303.07 13.65L1303.82 13.38L1304.45 13.13L1304.62 12.72L1304.80 12.33L1305.01 11.95L1305.24 11.58L1305.49 11.22L1305.75 10.88L1305.65 10.20L1305.52 9.42L1305.45 8.60L1305.53 7.86L1305.97 7.52L1306.43 7.21L1306.90 6.92L1307.39 6.66L1307.89 6.42L1308.40 6.20L1309.08 6.50L1309.75 6.97L1310.37 7.48L1310.90 7.90L1311.33 7.85L1311.77 7.81L1312.20 7.80L1312.63 7.81L1313.07 7.85L1313.50 7.90L1314.03 7.48L1314.65 6.97L1315.32 6.50L1316.00 6.20L1316.51 6.42L1317.01 6.66L1317.50 6.92L1317.97 7.21L1318.43 7.52L1318.87 7.86L1318.95 8.60L1318.88 9.42L1318.75 10.20L1318.65 10.88L1318.91 11.22L1319.16 11.58L1319.39 11.95L1319.60 12.33L1319.78 12.72L1319.95 13.13L1320.58 13.38L1321.33 13.65L1322.07 14.00L1322.67 14.44L1322.74 14.99L1322.79 15.55Z" fill="none" stroke="#bcbcbc" stroke-width="1.7" stroke-linejoin="round"/>
<circle cx="1312.2" cy="16.1" r="3.5" fill="none" stroke="#bcbcbc" stroke-width="1.7"/>
<circle cx="1351" cy="16.3" r="10.2" fill="none" stroke="#bcbcbc" stroke-width="1.7"/>
<path d="M1383 10L1389.8 16.5L1383 23" fill="none" stroke="#c8c8c8" stroke-width="1.9"/>
<path d="M1342 71H1363L1352.5 87.5Z" fill="#9c9c9c"/>
<rect x="1373.1" y="77.8" width="15.8" height="12.2" rx="0.8" fill="#f0b83c"/>
<rect x="1379.6" y="80.4" width="3" height="6.8" rx="1.3" fill="#3c2e0c"/>
<path d="M1387.8 78V74.8A3.8 3.8 0 0 1 1395.4 74.8V76.3" fill="none" stroke="#f0b83c" stroke-width="1.8"/>
<rect x="1375.7" y="37.8" width="22.8" height="16.2" fill="#1c1d22" fill-opacity="0.78" stroke="#a8a8ac" stroke-width="0.9"/>
<line x1="1388.3" y1="55.8" x2="1398" y2="55.8" stroke="#e8242c" stroke-width="1.6" stroke-dasharray="2 1.8"/>
<circle cx="1399.6" cy="55.6" r="1.5" fill="#e8242c"/>
<rect x="1378.2" y="57.8" width="17.4" height="1.8" fill="#505156"/>
<rect x="1084.5" y="88.4" width="255.5" height="1.5" fill="#e0e0e0"/>
<path d="M1406.6 380.5L1421.2 389.5V533.5L1406.6 543Z" fill="#222329"/>
<path d="M1409.8 457.8L1413.3 462L1409.8 466.2M1414.3 457.8L1417.8 462L1414.3 466.2" fill="none" stroke="#b8b8b8" stroke-width="1.2"/>
<rect x="1421" y="108.2" width="464" height="1.8" fill="#060709"/>
<rect x="1421" y="110" width="464" height="1.1" fill="#26272c"/>
<rect x="1421" y="141.2" width="459" height="1.2" fill="#303136"/>
<rect x="1421" y="265.6" width="459" height="1.2" fill="#303136"/>
<rect x="1421" y="461.2" width="459" height="1.2" fill="#303136"/>
<rect x="1421" y="790.6" width="459" height="1.2" fill="#303136"/>
<rect x="1881.6" y="112" width="3.6" height="771" fill="#2c2d32"/>
<rect x="1489" y="881.8" width="66" height="1.2" fill="#3a3b40"/>
<rect x="1808.8" y="90.1" width="17.4" height="17.3" rx="2" fill="#27282e"/>
<rect x="1836" y="90.1" width="17.4" height="17.3" rx="2" fill="#27282e"/>
<rect x="1862.9" y="90.1" width="17.4" height="17.3" rx="2" fill="#27282e"/>
<path d="M1811.4 104.6L1812.6 100.4L1818.9 95.1L1821.3 97.9L1815 103.3Z" fill="#3cc3d8"/>
<path d="M1819.8 94.3L1821.4 93L1823.8 95.8L1822.2 97.1Z" fill="#3cc3d8"/>
<path d="M1838.8 104.2C1838.8 103 1840.3 102.6 1840.3 101.2V98C1840.3 94.6 1842.1 92.2 1844.5 92.2C1846.9 92.2 1848.7 94.6 1848.7 98V101.2C1848.7 102.6 1850.2 103 1850.2 104.2Z" fill="#3cc3d8"/>
<path d="M1843 104.2H1846A1.5 1.9 0 0 1 1843 104.2Z" fill="#3cc3d8"/>
<path d="M1865.6 98.9H1877.6M1871.6 93.1V104.9" stroke="#39b8cc" stroke-width="2.5" fill="none"/>
<rect x="1448.3" y="727.4" width="45.2" height="4.2" fill="#fa2834"/>
<rect x="1538.3" y="730.6" width="45.2" height="1.6" fill="#fa2834"/>
<rect x="1628.4" y="545.6" width="45.2" height="186.0" fill="#fa2834"/>
<rect x="1718.4" y="711" width="45.2" height="20.6" fill="#fa2834"/>
<rect x="1808.5" y="709.4" width="45.2" height="22.2" fill="#fa2834"/>
</svg>
<span class="t" style="left:10.07px;top:9.00px;color:#dedede;font-size:20px;transform:scale(1.0282,1.0000);">分时</span>
<span class="t" style="left:70.17px;top:9.00px;color:#dedede;font-size:20px;transform:scale(1.0306,1.0000);">多日</span>
<span class="t" style="left:131.88px;top:8.00px;color:#dedede;font-size:20px;transform:scale(1.0241,1.0000);">1分</span>
<span class="t" style="left:183.97px;top:8.00px;color:#dedede;font-size:20px;transform:scale(1.0345,1.0000);">5分</span>
<span class="t" style="left:236.48px;top:8.00px;color:#dedede;font-size:20px;transform:scale(1.0244,1.0000);">15分</span>
<span class="t" style="left:302.20px;top:8.00px;color:#dedede;font-size:20px;">30分</span>
<span class="t" style="left:364.95px;top:8.00px;color:#dedede;font-size:20px;transform:scale(1.0488,1.0000);">60分</span>
<span class="t" style="left:428.70px;top:8.00px;color:#ffffff;font-size:20px;transform:scale(1.1000,1.0000);">日</span>
<span class="t" style="left:471.00px;top:8.00px;color:#dedede;font-size:20px;transform:scale(1.0222,1.0000);">周</span>
<span class="t" style="left:512.00px;top:8.00px;color:#dedede;font-size:20px;transform:scale(0.9824,1.0000);">月</span>
<span class="t" style="left:550.79px;top:9.00px;color:#dedede;font-size:20px;transform:scale(1.0053,1.0000);">更多</span>
<span class="t" style="left:905.40px;top:9.00px;color:#dedede;font-size:20px;transform:scale(0.9932,1.0000);">综合屏</span>
<span class="t" style="left:978.75px;top:8.00px;color:#dedede;font-size:20px;transform:scale(0.9545,1.0000);">F9</span>
<span class="t" style="left:1016.00px;top:9.00px;color:#dedede;font-size:20px;">前复权</span>
<span class="t" style="left:1091.60px;top:9.00px;color:#dedede;font-size:20px;transform:scale(0.9747,1.0000);">超级叠加</span>
<span class="t" style="left:1186.90px;top:9.00px;color:#dedede;font-size:20px;">画线</span>
<span class="t" style="left:1243.89px;top:8.00px;color:#dedede;font-size:20px;transform:scale(1.0105,1.0000);">工具</span>
<span class="t" style="left:1346.90px;top:8.00px;color:#bcbcbc;font-size:17px;transform:scale(0.9111,1.0000);">?</span>
<span class="t" style="left:6.04px;top:39.00px;color:#e6e6e6;font-size:21.2px;transform:scale(0.9587,1.0000);">159570.SZ[</span>
<span class="t" style="left:110.01px;top:41.00px;color:#e6e6e6;font-size:19.8px;transform:scale(0.9949,1.0000);">港股通创新药</span>
<span class="t" style="left:228.16px;top:39.00px;color:#e6e6e6;font-size:21.2px;transform:scale(0.8409,1.0000);">ETF]</span>
<span class="t" style="left:288.41px;top:39.00px;color:#e6e6e6;font-size:21.2px;transform:scale(1.0865,1.0000);">2025/08/22</span>
<span class="t" style="left:417.96px;top:41.00px;color:#e6e6e6;font-size:19.8px;transform:scale(1.0389,1.0000);">收</span>
<span class="t" style="left:443.00px;top:39.00px;color:#e8242c;font-size:21.2px;">2.042</span>
<span class="t" style="left:512.74px;top:41.00px;color:#e6e6e6;font-size:19.8px;transform:scale(0.9611,1.0000);">幅</span>
<span class="t" style="left:537.03px;top:39.00px;color:#e8242c;font-size:21.2px;transform:scale(0.9720,1.0000);">1.79%(0.036)</span>
<span class="t" style="left:674.81px;top:41.00px;color:#e6e6e6;font-size:19.8px;transform:scale(0.9889,1.0000);">开</span>
<span class="t" style="left:698.98px;top:39.00px;color:#e8242c;font-size:21.2px;transform:scale(1.0196,1.0000);">2.032</span>
<span class="t" style="left:768.80px;top:41.00px;color:#e6e6e6;font-size:19.8px;">高</span>
<span class="t" style="left:792.51px;top:39.00px;color:#e8242c;font-size:21.2px;transform:scale(0.9904,1.0000);">2.043</span>
<span class="t" style="left:862.00px;top:41.00px;color:#e6e6e6;font-size:19.8px;transform:scale(0.9474,1.0000);">低</span>
<span class="t" style="left:886.01px;top:39.00px;color:#e8242c;font-size:21.2px;transform:scale(0.9904,1.0000);">2.010</span>
<span class="t" style="left:955.00px;top:41.00px;color:#e6e6e6;font-size:19.8px;transform:scale(0.9789,1.0000);">均</span>
<span class="t" style="left:978.71px;top:39.00px;color:#e8242c;font-size:21.2px;transform:scale(0.9865,1.0000);">2.028</span>
<span class="t" style="left:1048.00px;top:41.00px;color:#e6e6e6;font-size:19.8px;transform:scale(0.9474,1.0000);">量</span>
<span class="t" style="left:1071.97px;top:39.00px;color:#e6e6e6;font-size:21.2px;transform:scale(1.0333,1.0000);">1609</span>
<span class="t" style="left:1156.00px;top:41.00px;color:#e6e6e6;font-size:19.8px;">换</span>
<span class="t" style="left:1180.53px;top:39.00px;color:#e6e6e6;font-size:21.2px;transform:scale(0.9700,1.0000);">19.29%</span>
<span class="t" style="left:1267.00px;top:41.00px;color:#e6e6e6;font-size:19.8px;transform:scale(0.9789,1.0000);">振</span>
<span class="t" style="left:1291.55px;top:39.00px;color:#e6e6e6;font-size:21.2px;transform:scale(0.9508,1.0000);">1.65%</span>
<span class="t" style="left:1121.00px;top:40.00px;color:#e6e6e6;font-size:19.8px;transform:scale(0.9368,1.0000);">万</span>
<span class="t" style="left:1364.84px;top:41.00px;color:#e6e6e6;font-size:19.8px;transform:scale(0.9556,1.0000);">额</span>
<span class="t" style="left:1383.30px;top:41.00px;color:#a4a4a8;font-size:11.6px;font-weight:bold;-webkit-text-stroke:0;transform:scale(0.7211,1.0000);">WP</span>
<span class="t" style="left:3.77px;top:71.00px;color:#e6e6e6;font-size:19.1px;transform:scale(1.0263,1.0000);">MA5</span>
<span class="t" style="left:53.00px;top:71.00px;color:#ee7d0a;font-size:19.1px;transform:scale(0.9787,1.0000);">2.026</span>
<span class="t" style="left:97.00px;top:64.52px;color:#ee7d0a;font-size:19px;transform:scale(1.4000,1.4167);">↑</span>
<span class="t" style="left:114.69px;top:71.00px;color:#e6e6e6;font-size:19.1px;transform:scale(1.0122,1.0000);">MA10</span>
<span class="t" style="left:173.89px;top:71.00px;color:#c8b820;font-size:19.1px;transform:scale(1.0065,1.0000);">1.986</span>
<span class="t" style="left:218.60px;top:64.52px;color:#c8b820;font-size:19px;transform:scale(1.4000,1.4167);">↑</span>
<span class="t" style="left:236.49px;top:71.00px;color:#e6e6e6;font-size:19.1px;transform:scale(1.0061,1.0000);">MA20</span>
<span class="t" style="left:294.98px;top:71.00px;color:#c63fc6;font-size:19.1px;transform:scale(1.0239,1.0000);">1.958</span>
<span class="t" style="left:340.40px;top:64.52px;color:#c63fc6;font-size:19px;transform:scale(1.4000,1.4167);">↑</span>
<span class="t" style="left:357.98px;top:71.00px;color:#e6e6e6;font-size:19.1px;transform:scale(1.0204,1.0000);">MA60</span>
<span class="t" style="left:416.68px;top:71.00px;color:#0b8a3c;font-size:19.1px;transform:scale(1.0217,1.0000);">1.717</span>
<span class="t" style="left:462.20px;top:64.52px;color:#0b8a3c;font-size:19px;transform:scale(1.4000,1.4167);">↑</span>
<span class="t" style="left:479.29px;top:71.00px;color:#e6e6e6;font-size:19.1px;transform:scale(1.0119,1.0000);">MA120</span>
<span class="t" style="left:548.68px;top:71.00px;color:#27b3cc;font-size:19.1px;transform:scale(1.0217,1.0000);">1.459</span>
<span class="t" style="left:594.20px;top:64.52px;color:#27b3cc;font-size:19px;transform:scale(1.4000,1.4167);">↑</span>
<span class="t" style="left:610.97px;top:71.00px;color:#e6e6e6;font-size:19.1px;transform:scale(1.0339,1.0000);">MA250</span>
<span class="t" style="left:680.67px;top:71.00px;color:#3d62d6;font-size:19.1px;transform:scale(1.0283,1.0000);">1.202</span>
<span class="t" style="left:726.40px;top:64.52px;color:#3d62d6;font-size:19px;transform:scale(1.4000,1.4167);">↑</span>
<span class="t" style="left:1084.80px;top:70.00px;color:#e4e4e4;font-size:19.1px;transform:scale(1.0356,1.0000);">2025/04/10-2025/08/22(93</span>
<span class="t" style="left:1315.90px;top:71.00px;color:#e4e4e4;font-size:18px;transform:scale(1.2333,1.0000);">日</span>
<span class="t" style="left:1336.00px;top:70.00px;color:#e4e4e4;font-size:19.1px;transform:scale(0.6333,1.0000);">)</span>
<span class="t" style="left:1314.40px;top:114.00px;color:#c4c4c4;font-size:18.3px;">2.10</span>
<span class="t" style="left:1313.37px;top:231.00px;color:#c4c4c4;font-size:18.3px;transform:scale(1.0294,1.0000);">1.90</span>
<span class="t" style="left:1313.37px;top:349.00px;color:#c4c4c4;font-size:18.3px;transform:scale(1.0294,1.0000);">1.70</span>
<span class="t" style="left:1313.37px;top:468.00px;color:#c4c4c4;font-size:18.3px;transform:scale(1.0294,1.0000);">1.50</span>
<span class="t" style="left:1313.37px;top:585.00px;color:#c4c4c4;font-size:18.3px;transform:scale(1.0294,1.0000);">1.30</span>
<span class="t" style="left:1313.37px;top:703.00px;color:#c4c4c4;font-size:18.3px;transform:scale(1.0294,1.0000);">1.10</span>
<span class="t" style="left:12.60px;top:855.00px;color:#a8a8a8;font-size:18.2px;transform:scale(1.0255,1.0000);">25-04</span>
<span class="t" style="left:214.60px;top:855.00px;color:#a8a8a8;font-size:18.2px;transform:scale(1.0478,1.0000);">25-05</span>
<span class="t" style="left:473.00px;top:855.00px;color:#a8a8a8;font-size:18.2px;transform:scale(1.0478,1.0000);">25-06</span>
<span class="t" style="left:742.50px;top:855.00px;color:#a8a8a8;font-size:18.2px;transform:scale(1.0478,1.0000);">25-07</span>
<span class="t" style="left:1055.00px;top:855.00px;color:#a8a8a8;font-size:18.2px;transform:scale(1.0478,1.0000);">25-08</span>
<span class="t" style="left:1145.30px;top:117.00px;color:#e8242c;font-size:19.1px;transform:scale(0.9468,1.0000);">2.093</span>
<span class="t" style="left:45.53px;top:717.00px;color:#1fa040;font-size:19.1px;transform:scale(0.9674,1.0000);">1.076</span>
<div class="cl" style="top:825px;height:23.8px"><span class="t" style="left:4.80px;top:5.00px;color:#f4f4f4;font-size:19px;transform:scale(1.0085,1.0000);">AMO: 32.61<span style="font-size:84%">亿</span></span></div>
<div class="cl" style="top:825px;height:23.8px"><span class="t" style="left:131.98px;top:5.00px;color:#f4f4f4;font-size:19px;transform:scale(1.0161,1.0000);">MA(5): 33.70<span style="font-size:84%">亿</span></span></div>
<div class="cl" style="top:825px;height:23.8px"><span class="t" style="left:266.50px;top:5.00px;color:#ee7d0a;font-size:19px;">MA(10): 31.97<span style="font-size:84%">亿</span></span></div>
<div class="cl" style="top:825px;height:23.8px"><span class="t" style="left:411.49px;top:5.00px;color:#c63fc6;font-size:19px;transform:scale(1.0074,1.0000);">MA(20): 32.83<span style="font-size:84%">亿</span></span></div>
<span class="t" style="left:1432.11px;top:14.00px;color:#f4f4f4;font-size:26.8px;font-weight:bold;-webkit-text-stroke:0;transform:scale(0.9912,1.0000);">港股通创新药</span>
<span class="t" style="left:1591.62px;top:13.00px;color:#f4f4f4;font-size:23.9px;font-weight:bold;-webkit-text-stroke:0;transform:scale(0.9773,1.0000);">ETF</span>
<span class="t" style="left:1772.58px;top:8.00px;color:#dcdcdc;font-size:32.4px;transform:scale(1.0086,1.0000);-webkit-text-stroke:0.6px #13161b;">159570</span>
<span class="t" style="left:1429.88px;top:39.00px;color:#ff2a38;font-size:55.5px;font-weight:bold;-webkit-text-stroke:0;transform:scale(1.0081,1.0000);">2.042</span>
<span class="t" style="left:1690.04px;top:51.00px;color:#ff2a38;font-size:25.8px;font-weight:bold;-webkit-text-stroke:0;transform:scale(1.0628,1.0000);">+0.036</span>
<span class="t" style="left:1789.16px;top:51.00px;color:#ff2a38;font-size:25.8px;font-weight:bold;-webkit-text-stroke:0;transform:scale(1.0356,1.0000);">+1.79%</span>
<span class="t" style="left:1428.57px;top:90.00px;color:#9c9c9c;font-size:19.1px;transform:scale(0.8265,1.0000);">SZSE</span>
<span class="t" style="left:1482.66px;top:90.00px;color:#9c9c9c;font-size:19.1px;transform:scale(0.9410,1.0000);">CNY</span>
<span class="t" style="left:1533.66px;top:90.00px;color:#9c9c9c;font-size:19.1px;transform:scale(0.9397,1.0000);">14:45:57</span>
<span class="t" style="left:1615.90px;top:91.00px;color:#9c9c9c;font-size:18.4px;">交易中</span>
<span class="t" style="left:1738.20px;top:91.00px;color:#9c9c9c;font-size:19.6px;transform:scale(1.0059,1.0000);">T+0</span>
<span class="t" style="left:1781.73px;top:90.00px;color:#e8e8e8;font-size:19.5px;transform:scale(0.9722,1.0000);">融</span>
<span class="t" style="left:1429.59px;top:119.00px;color:#e4e4e4;font-size:19.6px;transform:scale(1.0117,1.0000);">净值走势</span>
<span class="t" style="left:1623.40px;top:119.00px;color:#ececec;font-size:19.6px;">汇添富国证港股通创新药</span>
<span class="t" style="left:1839.70px;top:118.00px;color:#ececec;font-size:20.5px;transform:scale(0.7973,1.0000);">ETF</span>
<div class="cl" style="top:142.6px;height:27.4px"><span class="t" style="left:1429.59px;top:-2.60px;color:#9c9c9c;font-size:19.6px;transform:scale(1.0052,1.0000);">实时申购赎回信息</span></div>
<div class="cl" style="top:142.6px;height:27.4px"><span class="t" style="left:1677.91px;top:-2.60px;color:#9c9c9c;font-size:19.6px;transform:scale(1.0472,1.0000);">申购</span></div>
<div class="cl" style="top:142.6px;height:27.4px"><span class="t" style="left:1832.00px;top:-2.60px;color:#9c9c9c;font-size:19.6px;transform:scale(1.0184,1.0000);">赎回</span></div>
<span class="t" style="left:1429.57px;top:173.00px;color:#b0b0b0;font-size:19.6px;transform:scale(1.0342,1.0000);">笔数</span>
<span class="t" style="left:1695.00px;top:172.00px;color:#e6e6e6;font-size:21px;transform:scale(0.9870,1.0000);">49</span>
<span class="t" style="left:1859.50px;top:172.00px;color:#e6e6e6;font-size:21px;transform:scale(1.0182,1.0000);">0</span>
<span class="t" style="left:1430.60px;top:206.00px;color:#b0b0b0;font-size:19.6px;transform:scale(1.0077,1.0000);">金额</span>
<span class="t" style="left:1707.00px;top:205.00px;color:#e6e6e6;font-size:21px;transform:scale(0.9727,1.0000);">0</span>
<span class="t" style="left:1859.50px;top:205.00px;color:#e6e6e6;font-size:21px;transform:scale(1.0182,1.0000);">0</span>
<span class="t" style="left:1430.60px;top:239.00px;color:#b0b0b0;font-size:19.6px;transform:scale(1.0077,1.0000);">份额</span>
<span class="t" style="left:1698.50px;top:238.00px;color:#e6e6e6;font-size:19.6px;transform:scale(0.9474,1.0000);">万</span>
<span class="t" style="left:1649.77px;top:238.00px;color:#e6e6e6;font-size:21px;transform:scale(1.0333,1.0000);">6200</span>
<span class="t" style="left:1859.50px;top:238.00px;color:#e6e6e6;font-size:21px;transform:scale(1.0182,1.0000);">0</span>
<span class="t" style="left:1424.98px;top:274.00px;color:#f6f6f6;font-size:19.6px;font-weight:bold;-webkit-text-stroke:0;transform:scale(1.0092,1.0000);">申赎清单</span>
<span class="t" style="left:1842.04px;top:267.93px;color:#d8d8d8;font-size:18px;transform:scale(1.0615,1.0667);">...</span>
<span class="t" style="left:1431.00px;top:305.00px;color:#b0b0b0;font-size:19.6px;">最小申赎单位份额</span>
<span class="t" style="left:1777.98px;top:304.00px;color:#e6e6e6;font-size:20.6px;transform:scale(1.0189,1.0000);">1,000,000</span>
<span class="t" style="left:1431.00px;top:338.00px;color:#b0b0b0;font-size:19.6px;">现金替代比例上限</span>
<span class="t" style="left:1817.68px;top:337.00px;color:#e6e6e6;font-size:20.6px;transform:scale(1.0196,1.0000);">100%</span>
<span class="t" style="left:1428.98px;top:371.00px;color:#b0b0b0;font-size:19.6px;transform:scale(1.0090,1.0000);">申购赎回允许情况</span>
<span class="t" style="left:1733.80px;top:372.00px;color:#e6e6e6;font-size:19.6px;">申购赎回皆允许</span>
<span class="t" style="left:1431.00px;top:404.00px;color:#b0b0b0;font-size:19.6px;transform:scale(0.9960,1.0000);">T日预估现金差额</span>
<span class="t" style="left:1790.80px;top:403.00px;color:#e6e6e6;font-size:20.6px;transform:scale(1.0114,1.0000);">-49.15元</span>
<span class="t" style="left:1431.00px;top:437.00px;color:#b0b0b0;font-size:19.6px;transform:scale(1.0232,1.0000);">T-1日单位申赎资产</span>
<span class="t" style="left:1737.77px;top:436.00px;color:#e6e6e6;font-size:20.6px;transform:scale(1.0305,1.0000);">2000067.10元</span>
<span class="t" style="left:1426.50px;top:469.00px;color:#f6f6f6;font-size:19.6px;font-weight:bold;-webkit-text-stroke:0;transform:scale(1.0046,1.0000);">近5日净流入</span>
<span class="t" style="left:1774.47px;top:469.00px;color:#f6f6f6;font-size:19.6px;font-weight:bold;-webkit-text-stroke:0;transform:scale(1.0278,1.0000);">单位(万元)</span>
<span class="t" style="left:1446.56px;top:700.00px;color:#e8242c;font-size:21px;transform:scale(1.0422,1.0000);">2799</span>
<span class="t" style="left:1543.40px;top:705.00px;color:#e8242c;font-size:21px;transform:scale(1.0171,1.0000);">410</span>
<span class="t" style="left:1615.45px;top:519.00px;color:#e8242c;font-size:21px;transform:scale(1.0522,1.0000);">113207</span>
<span class="t" style="left:1711.68px;top:684.00px;color:#e8242c;font-size:21px;transform:scale(1.0228,1.0000);">13274</span>
<span class="t" style="left:1801.68px;top:682.00px;color:#e8242c;font-size:21px;transform:scale(1.0228,1.0000);">13792</span>
<span class="t" style="left:1448.22px;top:761.00px;color:#c8c8c8;font-size:21px;transform:scale(1.0775,1.0000);">8-15</span>
<span class="t" style="left:1538.19px;top:761.00px;color:#c8c8c8;font-size:21px;transform:scale(1.1050,1.0000);">8-18</span>
<span class="t" style="left:1628.31px;top:761.00px;color:#c8c8c8;font-size:21px;transform:scale(1.0900,1.0000);">8-19</span>
<span class="t" style="left:1718.42px;top:761.00px;color:#c8c8c8;font-size:21px;transform:scale(1.0756,1.0000);">8-20</span>
<span class="t" style="left:1808.45px;top:761.00px;color:#c8c8c8;font-size:21px;transform:scale(1.0450,1.0000);">8-21</span>
<span class="t" style="left:1432.28px;top:803.00px;color:#9c9c9c;font-size:19.6px;transform:scale(1.0184,1.0000);">天数</span>
<span class="t" style="left:1603.98px;top:803.00px;color:#9c9c9c;font-size:19.6px;transform:scale(1.0246,1.0000);">净流天</span>
<span class="t" style="left:1703.96px;top:803.00px;color:#9c9c9c;font-size:19.6px;transform:scale(1.0404,1.0000);">净流额</span>
<span class="t" style="left:1810.87px;top:803.00px;color:#9c9c9c;font-size:19.6px;transform:scale(1.0316,1.0000);">净流率</span>
<span class="t" style="left:1446.58px;top:836.00px;color:#d8d8d8;font-size:21px;transform:scale(1.0200,1.0000);">5</span>
<span class="t" style="left:1650.96px;top:836.00px;color:#e8242c;font-size:21px;transform:scale(1.0400,1.0000);">5</span>
<span class="t" style="left:1694.00px;top:836.00px;color:#e8242c;font-size:21px;transform:scale(1.0043,1.0000);">143482</span>
<span class="t" style="left:1812.03px;top:836.00px;color:#e8242c;font-size:21px;transform:scale(0.9655,1.0000);">9.54%</span>
<span class="t" style="left:1443.02px;top:871.00px;color:#d8d8d8;font-size:21px;transform:scale(0.9773,1.0000);">10</span>
<span class="t" style="left:1639.61px;top:871.00px;color:#e8242c;font-size:21px;transform:scale(0.9909,1.0000);">10</span>
<span class="t" style="left:1694.00px;top:871.00px;color:#e8242c;font-size:21px;transform:scale(1.0043,1.0000);">280347</span>
<span class="t" style="left:1802.06px;top:871.00px;color:#e8242c;font-size:21px;transform:scale(0.9429,1.0000);">21.17%</span>
</div></body></html>
